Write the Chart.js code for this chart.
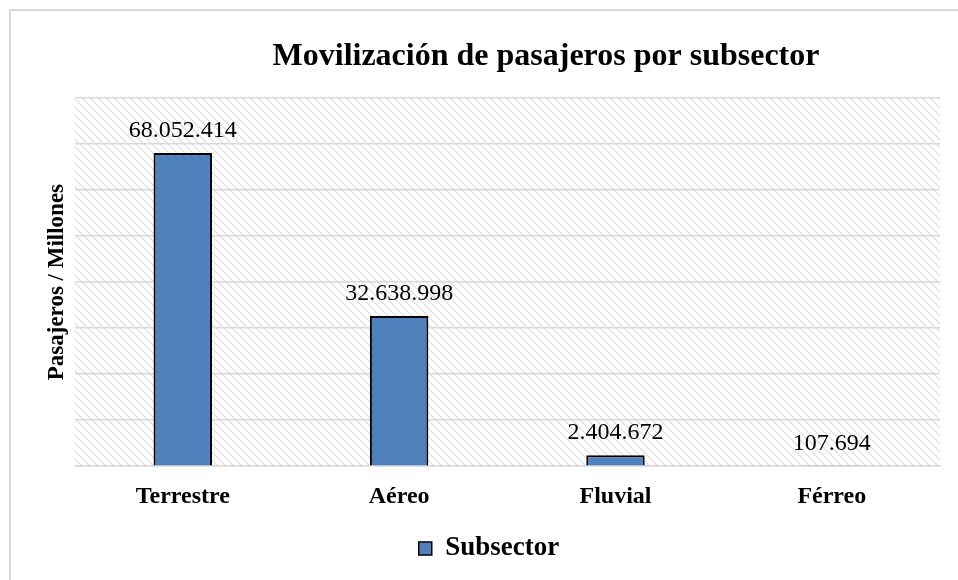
<!DOCTYPE html>
<html>
<head>
<meta charset="utf-8">
<script src="https://cdn.jsdelivr.net/npm/chart.js@4.4.1/dist/chart.umd.min.js"></script>
<style>
  html, body { margin: 0; padding: 0; background: #ffffff; }
  #wrap { width: 958px; height: 580px; position: relative; }
</style>
</head>
<body>
<div id="wrap"><canvas id="c" width="958" height="580"></canvas></div>
<script>
const categories = ["Terrestre", "Aéreo", "Fluvial", "Férreo"];
const values = [68052414, 32638998, 2404672, 107694];
const seriesName = "Subsector";
const chartTitle = "Movilización de pasajeros por subsector";
const yAxisTitle = "Pasajeros / Millones";

const SERIF = "'Liberation Serif', 'Times New Roman', serif";

function fmt(n) {
  return String(n).replace(/\B(?=(\d{3})+(?!\d))/g, ".");
}

function makePattern(ctx) {
  const p = document.createElement("canvas");
  p.width = 8; p.height = 8;
  const g = p.getContext("2d");
  g.fillStyle = "#ffffff";
  g.fillRect(0, 0, 8, 8);
  g.strokeStyle = "#dcdcdc";
  g.lineWidth = 1.2;
  g.beginPath();
  g.moveTo(-1, -1); g.lineTo(9, 9);
  g.moveTo(-9, -1); g.lineTo(1, 9);
  g.moveTo(7, -1); g.lineTo(17, 9);
  g.stroke();
  return ctx.createPattern(p, "repeat");
}

const framePlugin = {
  id: "frame",
  beforeDraw(chart) {
    const ctx = chart.ctx;
    const a = chart.chartArea;
    ctx.save();
    ctx.fillStyle = "#ffffff";
    ctx.fillRect(0, 0, chart.width, chart.height);
    ctx.strokeStyle = "#d9d9d9";
    ctx.lineWidth = 2;
    ctx.strokeRect(10, 10, chart.width + 20, chart.height + 20);
    ctx.fillStyle = makePattern(ctx);
    ctx.fillRect(a.left, a.top, a.right - a.left, a.bottom - a.top);
    ctx.restore();
  },
  afterDraw(chart) {
    const ctx = chart.ctx;
    ctx.save();
    ctx.fillStyle = "#000000";
    ctx.font = "bold 32px " + SERIF;
    ctx.textAlign = "center";
    ctx.textBaseline = "middle";
    ctx.fillText(chartTitle, 546, 57);
    ctx.restore();
  }
};

const labelPlugin = {
  id: "valueLabels",
  afterDatasetsDraw(chart) {
    const ctx = chart.ctx;
    const meta = chart.getDatasetMeta(0);
    ctx.save();
    ctx.fillStyle = "#000000";
    ctx.font = "24px " + SERIF;
    ctx.textAlign = "center";
    ctx.textBaseline = "middle";
    meta.data.forEach((bar, i) => {
      ctx.fillText(fmt(values[i]), bar.x, bar.y - 22);
    });
    ctx.restore();
  }
};

new Chart(document.getElementById("c"), {
  type: "bar",
  data: {
    labels: categories,
    datasets: [{
      label: seriesName,
      data: values,
      backgroundColor: "#4f81bd",
      borderColor: "#000000",
      borderWidth: 2,
      barPercentage: 0.27,
      categoryPercentage: 1.0
    }]
  },
  options: {
    responsive: false,
    animation: false,
    devicePixelRatio: 1,
    layout: { padding: { left: 38, right: 18, top: 98, bottom: 8 } },
    plugins: {
      title: { display: false },
      tooltip: { enabled: false },
      legend: {
        display: true,
        position: "bottom",
        labels: {
          color: "#000000",
          font: { family: SERIF, size: 27, weight: "bold" },
          boxWidth: 13,
          boxHeight: 13,
          padding: 8,
          generateLabels(chart) {
            return [{
              text: seriesName,
              fillStyle: "#4f81bd",
              strokeStyle: "#000000",
              lineWidth: 1.5,
              hidden: false,
              datasetIndex: 0
            }];
          }
        }
      }
    },
    scales: {
      x: {
        grid: { display: false, drawTicks: false },
        border: { display: true, color: "#d9d9d9", width: 1.5 },
        ticks: {
          color: "#000000",
          font: { family: SERIF, size: 24, weight: "bold" },
          padding: 16
        }
      },
      y: {
        min: 0,
        max: 80000000,
        grid: { color: "#d9d9d9", lineWidth: 1.5, drawTicks: false },
        border: { display: false },
        ticks: { display: false, stepSize: 10000000 },
        title: {
          display: true,
          text: yAxisTitle,
          color: "#000000",
          font: { family: SERIF, size: 23, weight: "bold" },
          padding: { top: 5, bottom: 4 }
        }
      }
    }
  },
  plugins: [framePlugin, labelPlugin]
});
</script>
</body>
</html>
